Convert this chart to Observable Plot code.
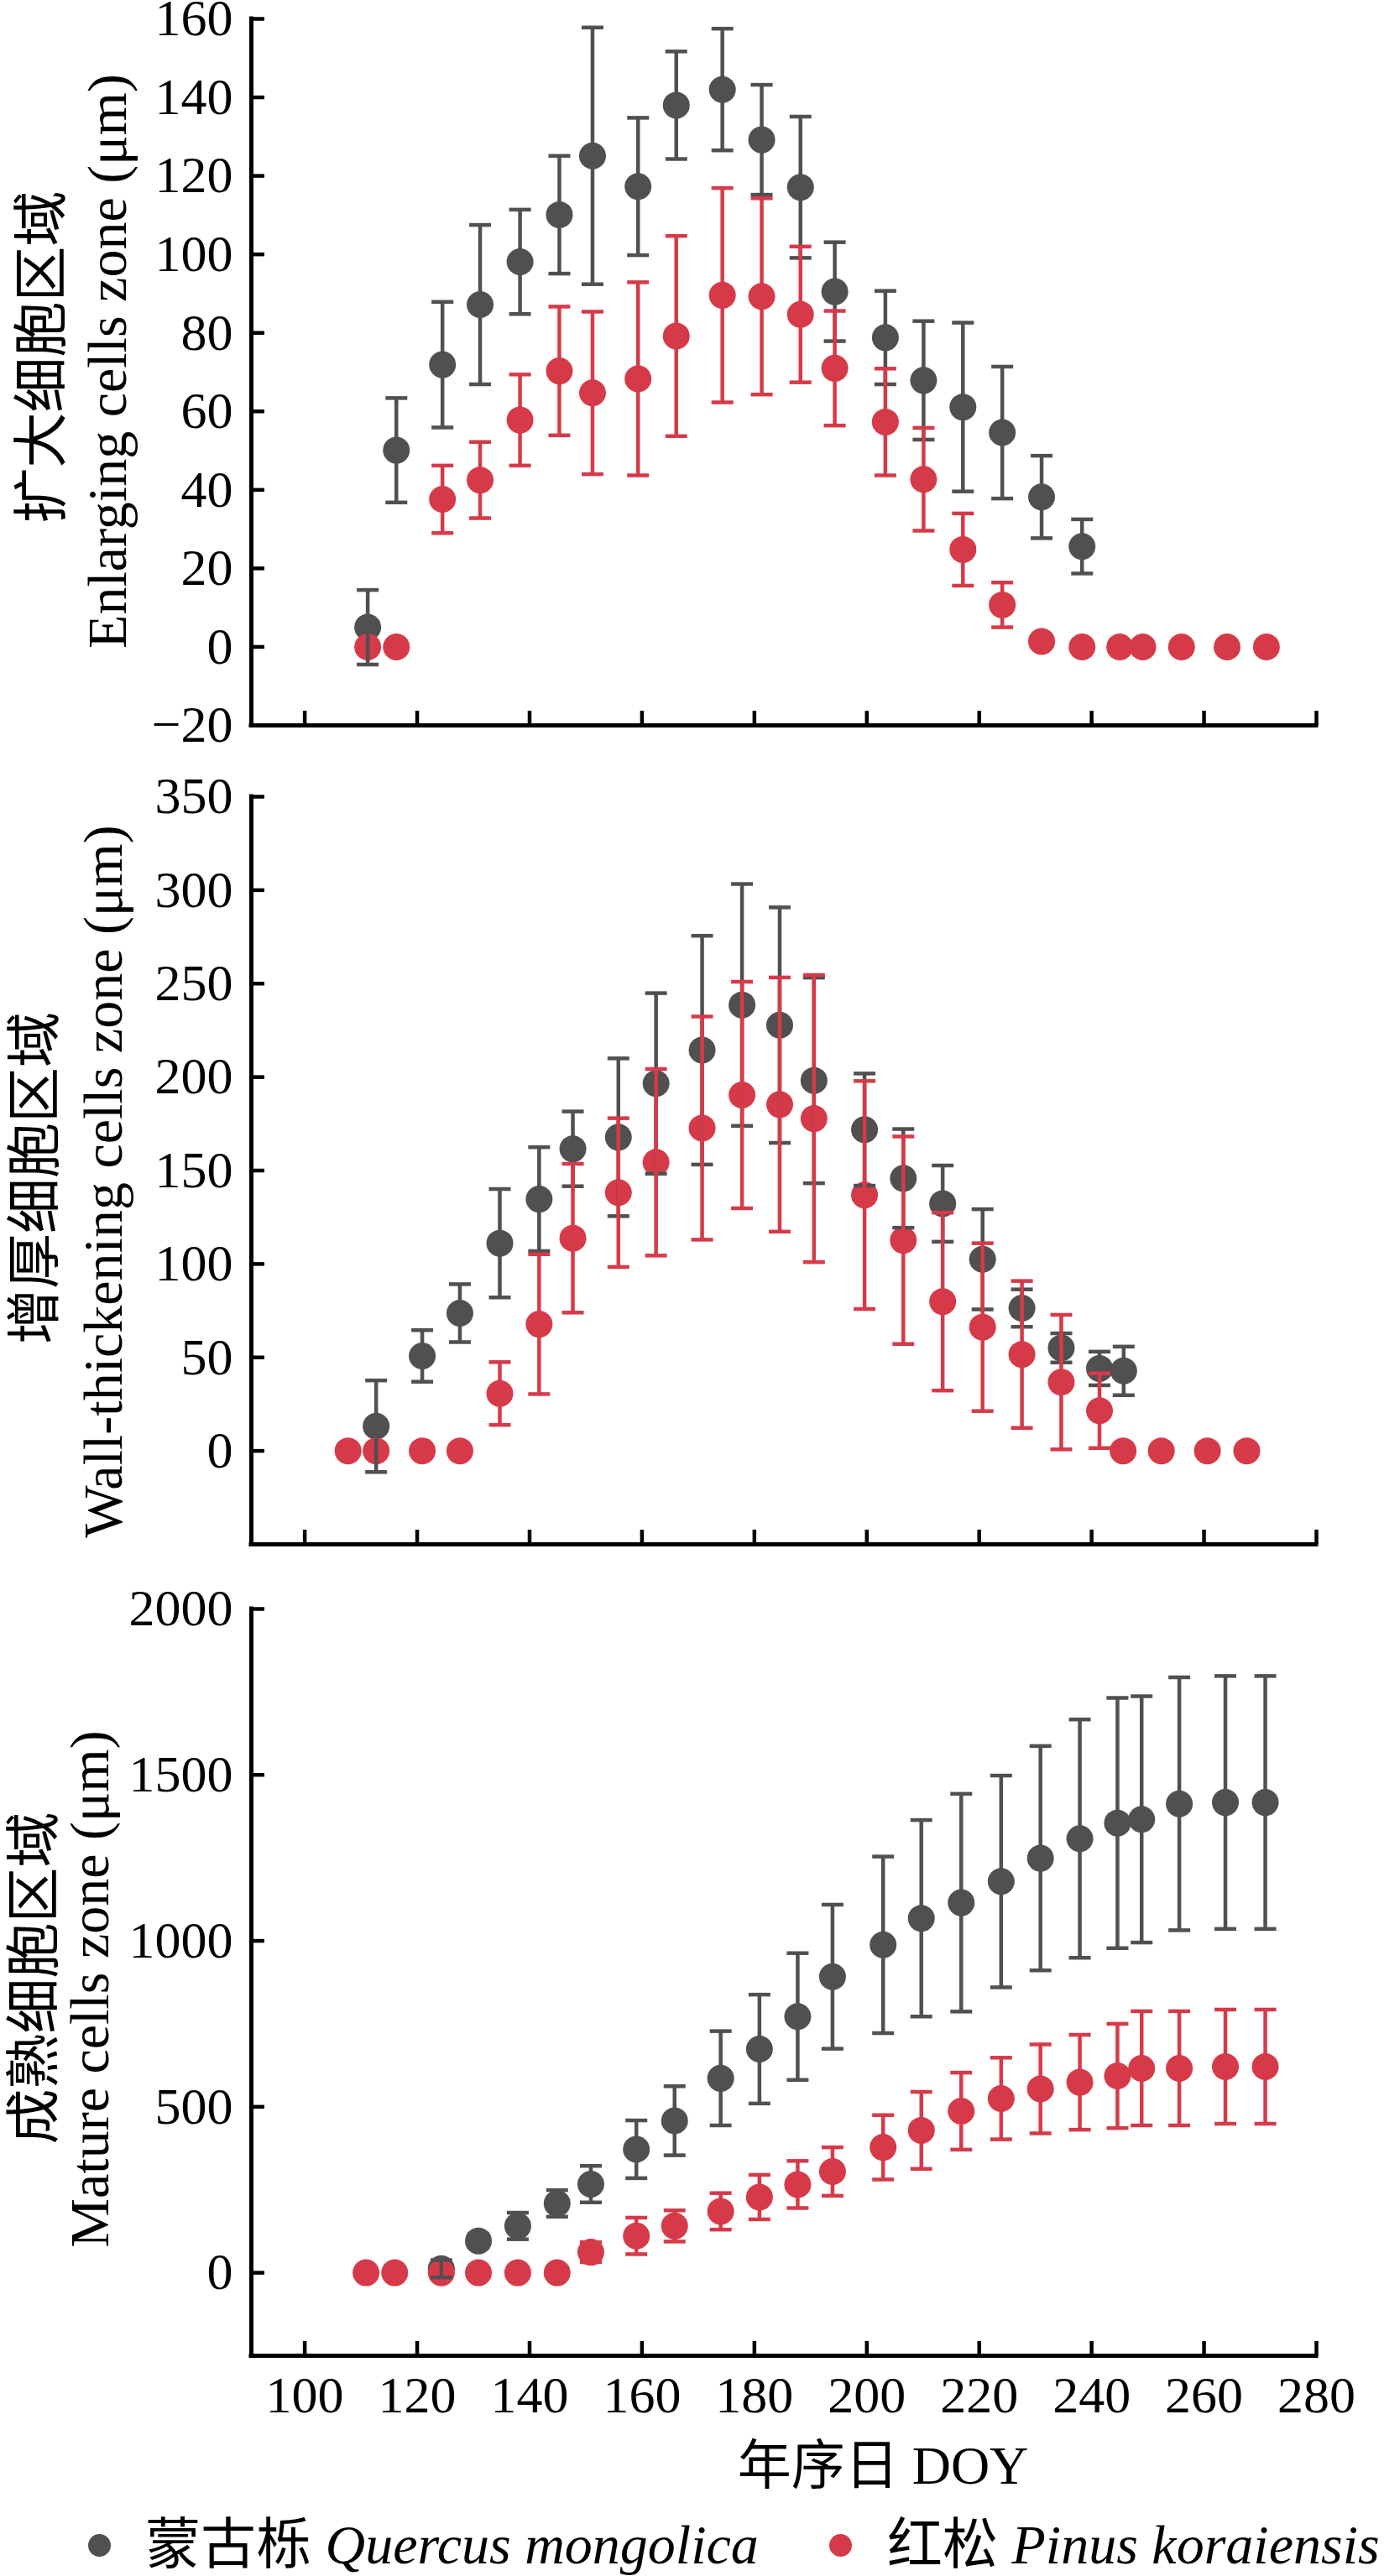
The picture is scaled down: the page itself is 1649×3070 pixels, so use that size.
<!DOCTYPE html>
<html>
<head>
<meta charset="utf-8">
<script src="https://cdn.jsdelivr.net/npm/d3@7"></script>
<script src="https://cdn.jsdelivr.net/npm/@observablehq/plot@0.6"></script>
<style>
  html, body { margin: 0; padding: 0; background: #fff; }
  #page { position: relative; width: 1649px; height: 3070px; overflow: hidden; }
  #page svg text { font-family: 'Liberation Serif', 'Noto Sans CJK SC', serif !important; }
  .legdot { position: absolute; width: 27px; height: 27px; border-radius: 50%; top: -13.5px; }
  .legtxt { position: absolute; top: 0; transform: translateY(-50%); font-size: 66px; line-height: 1;
            white-space: nowrap; font-family: 'Liberation Serif', 'Noto Sans CJK SC', serif; color: #000; }
</style>
</head>
<body>
<div id="page"></div>
<script>
// ---------- data ----------
const xDomain = [90.5, 280];
const xTicks = [100, 120, 140, 160, 180, 200, 220, 240, 260, 280];
const xTitle = "年序日 DOY";

const seriesNamesCN = ["蒙古栎", "红松"];
const seriesNamesLA = ["Quercus mongolica", "Pinus koraiensis"];
const seriesColors = ["#514f50", "#d63a49"];

// Panel 1: enlarging cells zone
const enlTicks = [-20, 0, 20, 40, 60, 80, 100, 120, 140, 160];
const enlGrayDoy  = [111.2,116.3,124.5,131.2,138.3,145.3,151.2,159.3,166.1,174.3,181.3,188.2,194.3,203.3,210.1,217.1,224.1,231.1,238.3];
const enlGrayMean = [5.0,50.1,71.9,87.2,98.1,110.1,125.1,117.3,138.0,142.0,129.2,117.1,90.5,78.8,67.9,61.1,54.6,38.2,25.6];
const enlGraySd   = [9.5,13.3,16.0,20.3,13.3,15.0,32.7,17.5,13.7,15.5,14.0,18.0,12.6,11.9,15.1,21.5,16.8,10.5,6.9];
const enlRedDoy   = [111.2,116.3,124.5,131.2,138.3,145.3,151.2,159.3,166.1,174.3,181.3,188.2,194.3,203.3,210.1,217.1,224.1,231.1,238.3,245.0,249.1,256.0,264.1,271.1];
const enlRedMean  = [0,0,37.6,42.5,57.8,70.3,64.7,68.3,79.2,89.6,89.3,84.7,71.0,57.3,42.7,24.8,10.7,1.4,0,0,0,0,0,0];
const enlRedSd    = [0,0,8.6,9.7,11.6,16.4,20.7,24.6,25.5,27.3,25.0,17.3,14.6,13.6,13.1,9.2,5.7,0,0,0,0,0,0,0];

// Panel 2: wall-thickening cells zone
const wtTicks = [0, 50, 100, 150, 200, 250, 300, 350];
const wtGrayDoy  = [112.7,120.9,127.6,134.7,141.7,147.7,155.8,162.5,170.7,177.8,184.5,190.6,199.6,206.5,213.5,220.6,227.6,234.6,241.4,245.7];
const wtGrayMean = [13.2,50.8,73.7,111.1,134.7,161.6,167.8,196.6,214.4,238.6,227.8,198.2,171.9,145.8,132.3,102.5,76.4,55.1,44.1,42.8];
const wtGraySd   = [24.5,13.8,15.5,29.0,27.8,20.0,42.2,48.3,61.2,64.7,63.0,55.0,30.0,26.4,20.4,26.8,10.0,7.8,9.0,13.0];
const wtRedDoy   = [107.7,112.7,120.9,127.6,134.7,141.7,147.7,155.8,162.5,170.7,177.8,184.5,190.6,199.6,206.5,213.5,220.6,227.6,234.6,241.4,245.6,252.4,260.6,267.6];
const wtRedMean  = [0,0,0,0,30.7,67.8,113.8,138.2,154.4,172.7,190.4,185.3,177.8,136.9,112.7,79.9,66.2,51.6,36.8,21.5,0,0,0,0];
const wtRedSd    = [0,0,0,0,16.8,37.4,39.8,39.8,49.9,59.7,60.6,68.0,76.8,61.0,55.5,47.6,44.9,39.3,36.0,20.0,0,0,0,0];

// Panel 3: mature cells zone
const matTicks = [0, 500, 1000, 1500, 2000];
const matGrayDoy  = [124.3,130.9,137.9,144.9,150.9,159.0,165.8,174.0,180.9,187.7,193.9,202.9,209.7,216.8,223.9,230.9,237.9,244.6,248.9,255.6,263.8,270.9];
const matGrayMean = [12,96,141,209,267,372,458,586,674,772,892,988,1068,1115,1179,1249,1308,1355,1366,1413,1417,1417];
const matGraySd   = [26,20,40,40,55,87,104,142,164,191,217,266,296,328,319,338,359,377,371,381,381,381];
const matRedDoy   = [110.9,116.0,124.3,130.9,137.9,144.9,150.9,159.0,165.8,174.0,180.9,187.7,193.9,202.9,209.7,216.8,223.9,230.9,237.9,244.6,248.9,255.6,263.8,270.9];
const matRedMean  = [0,0,0,0,0,0,62,111,141,185,228,266,305,378,429,487,525,554,574,593,616,616,621,621];
const matRedSd    = [0,0,0,0,0,0,30,55,47,55,67,71,73,97,116,116,123,134,143,157,172,172,172,172];

// ---------- helpers ----------
const rows = (doy, mean, sd) => doy.map((d, i) => ({doy: d, mean: mean[i], sd: sd[i]}));
const fontSerif = "'Liberation Serif', 'Noto Sans CJK SC', serif";
const fmt = d3.format("d");
const capSymbol = {
  draw(ctx, size) {
    const r = Math.sqrt(size / Math.PI);
    ctx.moveTo(-r, 0);
    ctx.lineTo(r, 0);
  }
};

function errMarks(data, color) {
  const d = data.filter(r => r.sd > 0);
  return [
    Plot.ruleX(d, {x: "doy", y1: r => r.mean - r.sd, y2: r => r.mean + r.sd, stroke: color, strokeWidth: 4.5}),
    Plot.dot(d, {x: "doy", y: r => r.mean + r.sd, symbol: capSymbol, r: 13, stroke: color, strokeWidth: 4.5, fill: "none"}),
    Plot.dot(d, {x: "doy", y: r => r.mean - r.sd, symbol: capSymbol, r: 13, stroke: color, strokeWidth: 4.5, fill: "none"})
  ];
}

function panel(cfg) {
  const W = 1649, ML = 299, MR = 81;
  const innerW = W - ML - MR;
  const innerH = cfg.height - cfg.mt - cfg.mb;
  const gray = rows(...cfg.gray);
  const red = rows(...cfg.red);
  const labelOpts = {frameAnchor: "left", text: d => d, rotate: -90, textAnchor: "middle", lineAnchor: "middle",
                     fontSize: 66, fontFamily: fontSerif, fill: "#000"};
  const marks = [
    Plot.dot(gray, {x: "doy", y: "mean", r: 16, fill: seriesColors[0]}),
    Plot.dot(red, {x: "doy", y: "mean", r: 16, fill: seriesColors[1]}),
    ...errMarks(gray, seriesColors[0]),
    ...errMarks(red, seriesColors[1]),
    Plot.ruleX([xDomain[0]], {stroke: "#000", strokeWidth: 5, strokeLinecap: "square"}),
    Plot.ruleY([cfg.yDomain[0]], {stroke: "#000", strokeWidth: 5, strokeLinecap: "square"}),
    Plot.tickY(cfg.yTicks, {y: d => d, insetRight: innerW - 16, stroke: "#000", strokeWidth: 4.5}),
    Plot.tickX(xTicks, {x: d => d, insetTop: innerH - 17, stroke: "#000", strokeWidth: 4.5}),
    Plot.axisY({ticks: cfg.yTicks, tickSize: 0, tickPadding: 22, tickFormat: fmt, label: null,
                fontSize: 62, fontFamily: fontSerif, fill: "#000"}),
    Plot.text([cfg.labelEN], {...labelOpts, dx: cfg.en[0], dy: cfg.en[1]}),
    Plot.text([cfg.labelCN], {...labelOpts, dx: cfg.cn[0], dy: cfg.cn[1]})
  ];
  if (cfg.showX) {
    marks.push(Plot.axisX({ticks: xTicks, tickSize: 0, tickPadding: 23, tickFormat: fmt, label: null,
                           fontSize: 62, fontFamily: fontSerif, fill: "#000"}));
    marks.push(Plot.text([xTitle], {frameAnchor: "bottom", text: d => d, textAnchor: "middle", lineAnchor: "middle",
                           dx: 118, dy: 132, fontSize: 64, fontFamily: fontSerif, fill: "#000"}));
  }
  const svg = Plot.plot({
    width: W, height: cfg.height,
    marginLeft: ML, marginRight: MR, marginTop: cfg.mt, marginBottom: cfg.mb,
    x: {domain: xDomain, axis: null},
    y: {domain: cfg.yDomain, axis: null},
    style: {fontFamily: fontSerif, fontSize: "62px", background: "transparent", overflow: "visible", color: "#000"},
    marks
  });
  svg.style.position = "absolute";
  svg.style.left = "0px";
  svg.style.top = cfg.top + "px";
  svg.style.maxWidth = "none";
  document.getElementById("page").appendChild(svg);
}

panel({top: 0, height: 900, mt: 22, mb: 36, yDomain: [-20, 160], yTicks: enlTicks,
       gray: [enlGrayDoy, enlGrayMean, enlGraySd], red: [enlRedDoy, enlRedMean, enlRedSd],
       labelEN: "Enlarging cells zone (μm)", labelCN: "扩大细胞区域", en: [-171, -13], cn: [-249, -18]});
panel({top: 900, height: 950, mt: 49, mb: 10, yDomain: [-50, 350], yTicks: wtTicks,
       gray: [wtGrayDoy, wtGrayMean, wtGraySd], red: [wtRedDoy, wtRedMean, wtRedSd],
       labelEN: "Wall-thickening cells zone (μm)", labelCN: "增厚细胞区域", en: [-176, 13], cn: [-257, 9]});
panel({top: 1850, height: 1140, mt: 67, mb: 183, yDomain: [-250, 2000], yTicks: matTicks,
       gray: [matGrayDoy, matGrayMean, matGraySd], red: [matRedDoy, matRedMean, matRedSd],
       labelEN: "Mature cells zone (μm)", labelCN: "成熟细胞区域", en: [-192, 8], cn: [-258, -5], showX: true});

// ---------- legend ----------
const leg = document.createElement("div");
leg.style.cssText = "position:absolute;left:0;top:3033px;width:1649px;height:0;";
const legDotX = [104.5, 987.5];
const legTxtX = [173, 1057];
seriesNamesCN.forEach((cn, i) => {
  const dot = document.createElement("span");
  dot.className = "legdot";
  dot.style.left = legDotX[i] + "px";
  dot.style.background = seriesColors[i];
  leg.appendChild(dot);
  const t = document.createElement("span");
  t.className = "legtxt";
  t.style.left = legTxtX[i] + "px";
  t.innerHTML = cn + " <i>" + seriesNamesLA[i] + "</i>";
  leg.appendChild(t);
});
document.getElementById("page").appendChild(leg);
</script>
</body>
</html>
